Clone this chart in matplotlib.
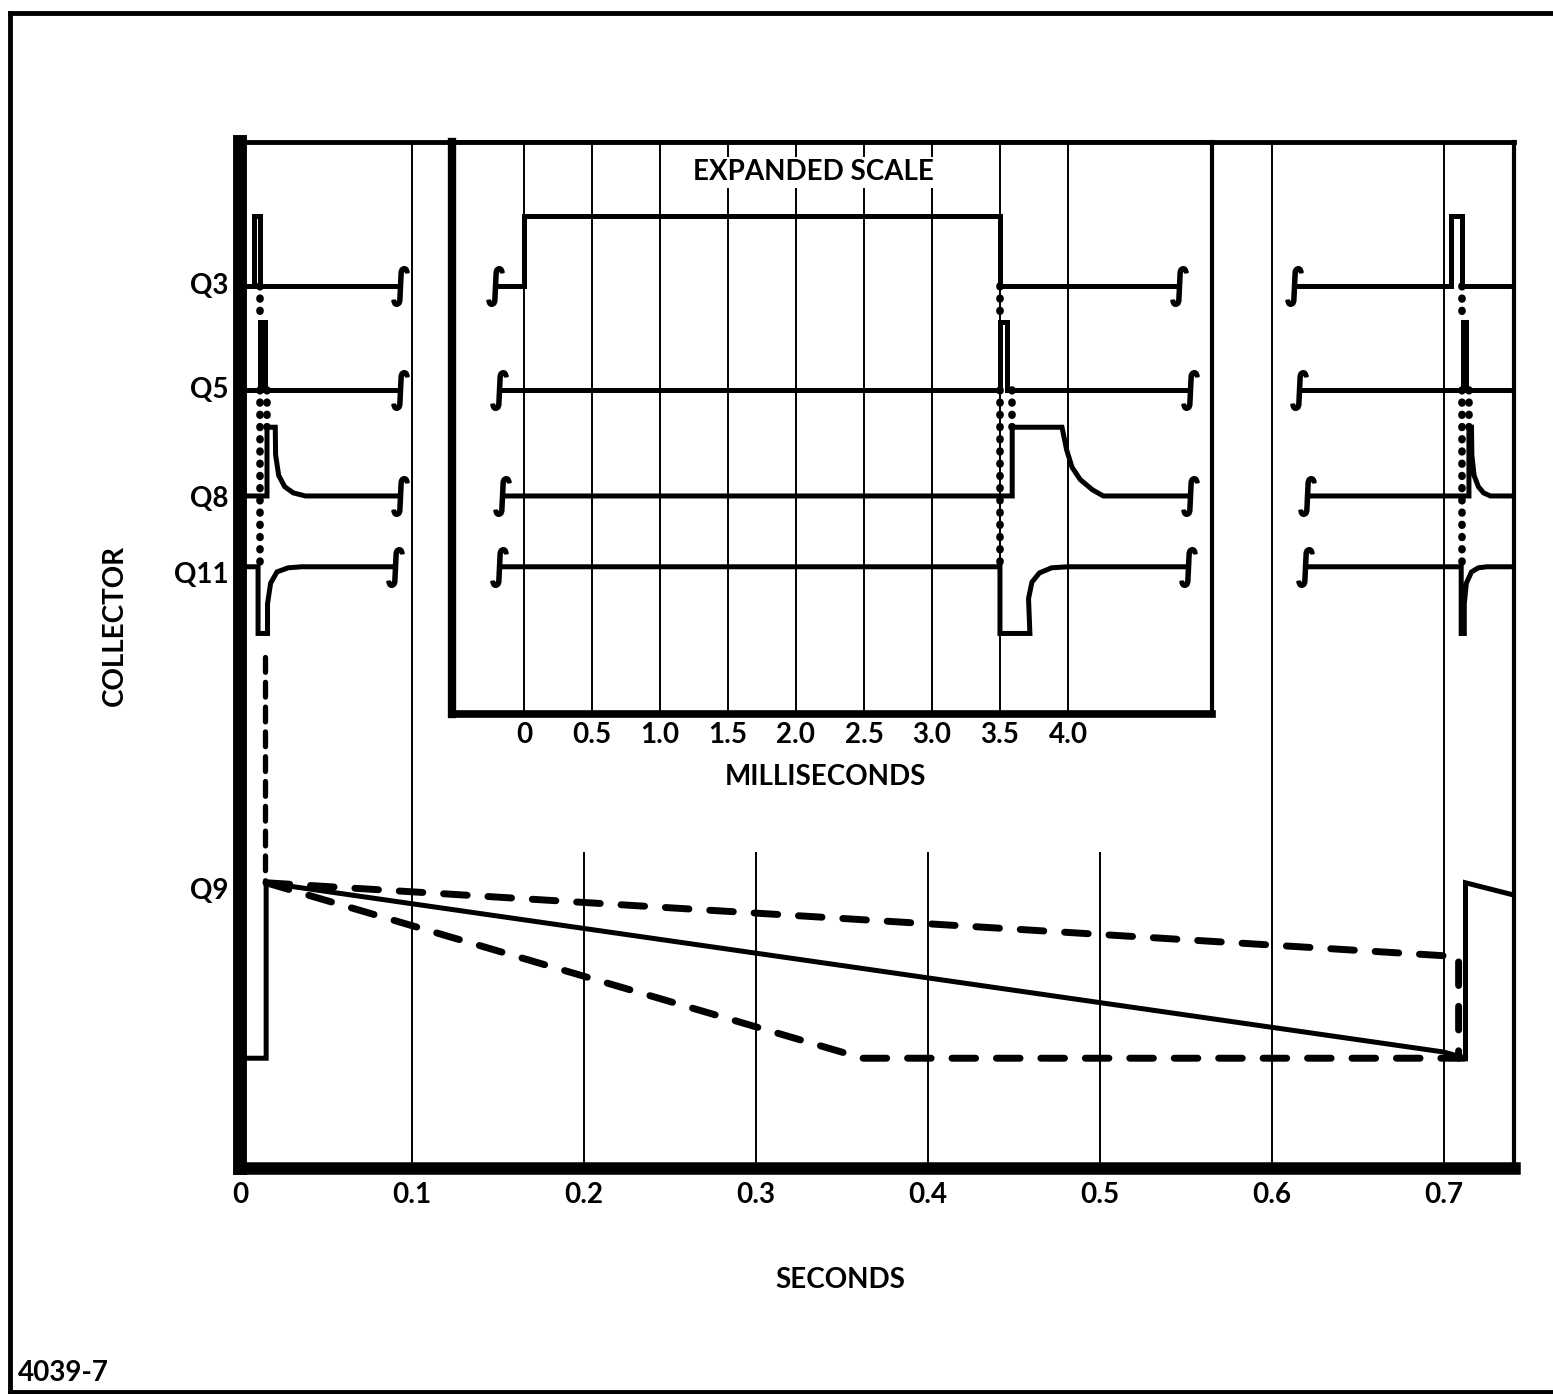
import matplotlib.pyplot as plt
from matplotlib.lines import Line2D
import matplotlib.transforms as mtransforms

plt.rcParams["font.family"] = ["Lato", "DejaVu Sans"]
plt.rcParams["font.weight"] = "bold"
plt.rcParams["mathtext.fontset"] = "dejavusans"

# relative collector levels (0 = bottom of plot, 10 = top)
q3_lo, q3_hi = 8.60, 9.28
q5_lo, q5_hi = 7.58, 8.25
q8_lo, q8_hi = 6.55, 7.22
q11_hi, q11_lo = 5.86, 5.21
q9_hi, q9_lo = 2.78, 1.07

# ---- seconds scale: start of cycle (ends in a break) ----
q3_t = [0, 0.008, 0.008, 0.0118, 0.0118, 0.093]
q3_v = [q3_lo, q3_lo, q3_hi, q3_hi, q3_lo, q3_lo]
q5_t = [0, 0.0118, 0.0118, 0.0145, 0.0145, 0.093]
q5_v = [q5_lo, q5_lo, q5_hi, q5_hi, q5_lo, q5_lo]
q8_t = [0, 0.0157, 0.0157, 0.0205, 0.0207, 0.0225, 0.026, 0.031, 0.038, 0.093]
q8_v = [q8_lo, q8_lo, q8_hi, q8_hi, 6.95, 6.75, 6.64, 6.58, q8_lo, q8_lo]
q11_t = [0, 0.0105, 0.0105, 0.0160, 0.0160, 0.0178, 0.0215, 0.028, 0.036, 0.090]
q11_v = [q11_hi, q11_hi, q11_lo, q11_lo, 5.50, 5.70, 5.81, 5.85, q11_hi, q11_hi]

# ---- seconds scale: next cycle (starts after a break) ----
q3r_t = [0.6128, 0.7040, 0.7040, 0.7105, 0.7105, 0.7407]
q3r_v = [q3_lo, q3_lo, q3_hi, q3_hi, q3_lo, q3_lo]
q5r_t = [0.6157, 0.7108, 0.7108, 0.7130, 0.7130, 0.7407]
q5r_v = [q5_lo, q5_lo, q5_hi, q5_hi, q5_lo, q5_lo]
q8r_t = [0.6203, 0.7145, 0.7145, 0.7160, 0.7162, 0.7175, 0.720, 0.723, 0.727, 0.7407]
q8r_v = [q8_lo, q8_lo, q8_hi, q8_hi, 6.95, 6.75, 6.64, 6.58, q8_lo, q8_lo]
q11r_t = [0.6190, 0.7100, 0.7100, 0.7118, 0.7118, 0.7130, 0.7160, 0.7200, 0.7250, 0.7407]
q11r_v = [q11_hi, q11_hi, q11_lo, q11_lo, 5.50, 5.70, 5.81, 5.85, q11_hi, q11_hi]

# Q9 ramp (solid) and its two limits (dashed)
q9_t = [0, 0.0152, 0.0152, 0.700, 0.7125, 0.7125, 0.7407]
q9_v = [q9_lo, q9_lo, q9_hi, 1.13, q9_lo, q9_hi, 2.66]
q9_up_t = [0.0152, 0.7085, 0.7085]
q9_up_v = [q9_hi, 2.06, q9_lo]
q9_dn_t = [0.0152, 0.362, 0.7125]
q9_dn_v = [q9_hi, q9_lo, q9_lo]

# dotted timing connectors: (time, from level, to level)
dots_main = [(0.0118, q3_lo, q5_hi), (0.0118, q5_lo, q11_hi), (0.0157, q5_lo, q8_hi),
             (0.7105, q3_lo, q5_hi), (0.7105, q5_lo, q11_hi), (0.7145, q5_lo, q8_hi)]
dash_q11_q9 = (0.0147, 4.98, q9_hi)

# ---- milliseconds scale (expanded) ----
e_q3_t = [-0.21, 0, 0, 3.5, 3.5, 4.82]
e_q3_v = [q3_lo, q3_lo, q3_hi, q3_hi, q3_lo, q3_lo]
e_q5_t = [-0.18, 3.5, 3.5, 3.555, 3.555, 4.90]
e_q5_v = [q5_lo, q5_lo, q5_hi, q5_hi, q5_lo, q5_lo]
e_q8_t = [-0.16, 3.59, 3.59, 3.956, 3.99, 4.03, 4.09, 4.18, 4.26, 4.90]
e_q8_v = [q8_lo, q8_lo, q8_hi, q8_hi, 7.00, 6.83, 6.71, 6.61, q8_lo, q8_lo]
e_q11_t = [-0.18, 3.5, 3.5, 3.72, 3.71, 3.735, 3.79, 3.88, 4.0, 4.88]
e_q11_v = [q11_hi, q11_hi, q11_lo, q11_lo, 5.55, 5.71, 5.80, 5.85, q11_hi, q11_hi]
dots_exp = [(3.5, q3_lo, q5_hi), (3.5, q5_lo, q11_hi), (3.59, q5_lo, q8_hi)]

sec_ticks = [0, 0.1, 0.2, 0.3, 0.4, 0.5, 0.6, 0.7]
sec_labels = ["0", "0.1", "0.2", "0.3", "0.4", "0.5", "0.6", "0.7"]
sec_grid_full = [0.1, 0.6, 0.7]
sec_grid_short = [0.2, 0.3, 0.4, 0.5]
ms_ticks = [0, 0.5, 1.0, 1.5, 2.0, 2.5, 3.0, 3.5, 4.0]
ms_labels = ["0", "0.5", "1.0", "1.5", "2.0", "2.5", "3.0", "3.5", "4.0"]
labels = ["Q3", "Q5", "Q8", "Q11", "Q9"]
label_y = [q3_lo, q5_lo, q8_lo - 0.03, q11_hi - 0.08, q9_hi - 0.08]

W, H = 1553, 1394
fig = plt.figure(figsize=(W / 100, H / 100), dpi=100)


def box(l, t, r, b):
    return [l / W, 1 - b / H, (r - l) / W, (b - t) / H]


ax = fig.add_axes(box(240, 142, 1514, 1168))
axi = fig.add_axes(box(452, 142, 1212, 714))

FS = 20
trace = dict(color="black", lw=3.6, solid_joinstyle="miter", solid_capstyle="butt", zorder=3)
dotted = dict(color="black", lw=5.5, ls=(0, (0.1, 1.5)), dash_capstyle="round", zorder=2)
squig = dict(marker=r"$\int$", markersize=28, mew=1.6, mec="black", color="black",
             ls="none", zorder=4)

# main axes
ax.set_xlim(0, 0.7407)
ax.set_ylim(0, 10)
for t in sec_grid_full:
    ax.axvline(t, color="black", lw=1.4, zorder=1)
ax.vlines(sec_grid_short, 0, 3.08, color="black", lw=1.4, zorder=1)

for t, v in [(q3_t, q3_v), (q5_t, q5_v), (q8_t, q8_v), (q11_t, q11_v)]:
    ax.plot(t, v, **trace)
    ax.plot(t[-1], v[-1], **squig)
for t, v in [(q3r_t, q3r_v), (q5r_t, q5r_v), (q8r_t, q8r_v), (q11r_t, q11r_v)]:
    ax.plot(t, v, **trace)
    ax.plot(t[0], v[0], **squig)
for t, a, b in dots_main:
    ax.plot([t, t], [a, b], **dotted)
ax.plot([dash_q11_q9[0]] * 2, dash_q11_q9[1:], color="black", lw=3.8,
        ls=(0, (2.8, 1.9)), dash_capstyle="round", zorder=2)

ax.plot(q9_t, q9_v, **trace)
ax.plot(q9_up_t, q9_up_v, color="black", lw=5, ls=(0, (3.4, 3.0)),
        dash_capstyle="round", zorder=3)
ax.plot(q9_dn_t, q9_dn_v, color="black", lw=5, ls=(0, (3.4, 3.0)),
        dash_capstyle="round", zorder=3)

ax.set_xticks(sec_ticks)
ax.set_xticklabels(sec_labels, fontsize=FS, fontweight="bold")
ax.tick_params(axis="x", length=0, pad=10)
ax.set_yticks([])
ax.spines["left"].set_linewidth(10)
ax.spines["bottom"].set_linewidth(9)
ax.spines["top"].set_linewidth(3.5)
ax.spines["right"].set_linewidth(3)

tr = mtransforms.blended_transform_factory(ax.transAxes, ax.transData)
for lab, y in zip(labels, label_y):
    ax.text(-0.009, y, lab, transform=tr, ha="right", va="center",
            fontsize=FS, fontweight="bold")

# expanded-scale inset
axi.set_xlim(-0.529, 5.059)
axi.set_ylim(4.425, 10)
for t in ms_ticks:
    axi.axvline(t, color="black", lw=1.4, zorder=1)
for t, v in [(e_q3_t, e_q3_v), (e_q5_t, e_q5_v), (e_q8_t, e_q8_v), (e_q11_t, e_q11_v)]:
    axi.plot(t, v, **trace)
    axi.plot([t[0], t[-1]], [v[0], v[-1]], **squig)
for t, a, b in dots_exp:
    axi.plot([t, t], [a, b], **dotted)
axi.set_xticks(ms_ticks)
axi.set_xticklabels(ms_labels, fontsize=FS, fontweight="bold")
axi.tick_params(axis="x", length=0, pad=6)
axi.set_yticks([])
axi.spines["left"].set_linewidth(6)
axi.spines["bottom"].set_linewidth(5.5)
axi.spines["top"].set_linewidth(3.5)
axi.spines["right"].set_linewidth(3)
axi.text(0.475, 0.947, "EXPANDED SCALE", transform=axi.transAxes, ha="center",
         va="center", fontsize=FS, fontweight="bold", zorder=5,
         bbox=dict(facecolor="white", edgecolor="none", pad=2))

fig.text(825 / W, 1 - 777 / H, "MILLISECONDS", ha="center", va="center",
         fontsize=FS, fontweight="bold")
fig.text(840 / W, 1 - 1280 / H, "SECONDS", ha="center", va="center",
         fontsize=FS, fontweight="bold")
fig.text(115 / W, 1 - 625 / H, "COLLECTOR", ha="center", va="center",
         rotation=90, fontsize=FS, fontweight="bold")
fig.text(18 / W, 1 - 1373 / H, "4039-7", ha="left", va="center",
         fontsize=FS, fontweight="bold")

# page frame
for xs, ys in [([10, W], [13, 13]), ([10, 10], [13, 1392]), ([10, W], [1392, 1392])]:
    fig.add_artist(Line2D([x / W for x in xs], [1 - y / H for y in ys],
                          color="black", lw=3.5, transform=fig.transFigure))

fig.savefig("out.png", dpi=100)
